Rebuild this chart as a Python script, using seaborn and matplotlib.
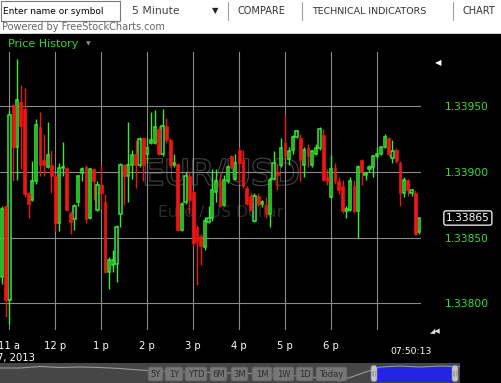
import numpy as np
import pandas as pd
import matplotlib
matplotlib.use("Agg")
import matplotlib.pyplot as plt
import matplotlib.patheffects as pe
from matplotlib.patches import Rectangle, FancyBboxPatch
from matplotlib.transforms import blended_transform_factory
import seaborn as sns

# EUR/USD 5 minute bars (10:50 onwards)
opens = [1.33820, 1.33874, 1.33803, 1.33951, 1.33919, 1.33953, 1.33948, 1.33884, 1.33879, 1.33893,
         1.33934, 1.33909, 1.33904, 1.33905, 1.33897, 1.33861, 1.33903, 1.33903, 1.33869, 1.33864,
         1.33877, 1.33899, 1.33904, 1.33865, 1.33902, 1.33871, 1.33890, 1.33877, 1.33824, 1.33829,
         1.33830, 1.33868, 1.33905, 1.33897, 1.33905, 1.33914, 1.33905, 1.33926, 1.33914, 1.33922,
         1.33922, 1.33933, 1.33914, 1.33935, 1.33924, 1.33905, 1.33906, 1.33856, 1.33877, 1.33897,
         1.33885, 1.33858, 1.33851, 1.33843, 1.33862, 1.33865, 1.33885, 1.33893, 1.33875, 1.33893,
         1.33912, 1.33895, 1.33917, 1.33909, 1.33888, 1.33882, 1.33863, 1.33882, 1.33876, 1.33875,
         1.33868, 1.33895, 1.33900, 1.33905, 1.33922, 1.33910, 1.33917, 1.33927, 1.33926, 1.33905,
         1.33918, 1.33905, 1.33914, 1.33918, 1.33928, 1.33896, 1.33881, 1.33903, 1.33893, 1.33889,
         1.33870, 1.33871, 1.33889, 1.33870, 1.33909, 1.33898, 1.33902, 1.33904, 1.33912, 1.33914,
         1.33919, 1.33926, 1.33911, 1.33917, 1.33907, 1.33884, 1.33894, 1.33884, 1.33884, 1.33854]
highs = [1.33874, 1.33875, 1.33947, 1.33952, 1.33986, 1.33966, 1.33964, 1.33885, 1.33908, 1.33940,
         1.33946, 1.33929, 1.33938, 1.33917, 1.33899, 1.33907, 1.33923, 1.33904, 1.33870, 1.33876,
         1.33898, 1.33904, 1.33905, 1.33903, 1.33903, 1.33893, 1.33905, 1.33883, 1.33835, 1.33841,
         1.33860, 1.33907, 1.33906, 1.33938, 1.33917, 1.33924, 1.33927, 1.33927, 1.33927, 1.33946,
         1.33947, 1.33935, 1.33948, 1.33941, 1.33926, 1.33914, 1.33907, 1.33877, 1.33900, 1.33901,
         1.33886, 1.33860, 1.33853, 1.33866, 1.33874, 1.33902, 1.33902, 1.33899, 1.33898, 1.33905,
         1.33913, 1.33914, 1.33919, 1.33917, 1.33889, 1.33884, 1.33884, 1.33884, 1.33879, 1.33881,
         1.33896, 1.33916, 1.33907, 1.33926, 1.33943, 1.33919, 1.33928, 1.33932, 1.33929, 1.33919,
         1.33921, 1.33917, 1.33921, 1.33934, 1.33933, 1.33902, 1.33913, 1.33907, 1.33896, 1.33894,
         1.33874, 1.33896, 1.33894, 1.33905, 1.33910, 1.33900, 1.33905, 1.33913, 1.33919, 1.33920,
         1.33929, 1.33927, 1.33924, 1.33918, 1.33908, 1.33896, 1.33895, 1.33887, 1.33886, 1.33865]
lows = [1.33815, 1.33790, 1.33784, 1.33893, 1.33894, 1.33902, 1.33881, 1.33865, 1.33878, 1.33891,
        1.33897, 1.33897, 1.33903, 1.33884, 1.33855, 1.33855, 1.33897, 1.33870, 1.33853, 1.33856,
        1.33874, 1.33893, 1.33861, 1.33864, 1.33879, 1.33870, 1.33872, 1.33823, 1.33811, 1.33824,
        1.33816, 1.33858, 1.33875, 1.33877, 1.33895, 1.33888, 1.33904, 1.33893, 1.33907, 1.33921,
        1.33921, 1.33913, 1.33912, 1.33922, 1.33904, 1.33904, 1.33855, 1.33855, 1.33876, 1.33868,
        1.33844, 1.33814, 1.33829, 1.33841, 1.33861, 1.33863, 1.33877, 1.33873, 1.33874, 1.33892,
        1.33902, 1.33894, 1.33891, 1.33888, 1.33875, 1.33870, 1.33862, 1.33874, 1.33873, 1.33865,
        1.33858, 1.33894, 1.33886, 1.33904, 1.33910, 1.33905, 1.33914, 1.33926, 1.33893, 1.33896,
        1.33904, 1.33904, 1.33913, 1.33917, 1.33893, 1.33890, 1.33880, 1.33891, 1.33883, 1.33869,
        1.33865, 1.33870, 1.33869, 1.33850, 1.33890, 1.33894, 1.33900, 1.33896, 1.33911, 1.33913,
        1.33918, 1.33912, 1.33907, 1.33907, 1.33874, 1.33881, 1.33882, 1.33882, 1.33852, 1.33853]
closes = [1.33872, 1.33803, 1.33943, 1.33919, 1.33955, 1.33935, 1.33883, 1.33876, 1.33893, 1.33936,
          1.33905, 1.33905, 1.33913, 1.33897, 1.33861, 1.33903, 1.33904, 1.33871, 1.33862, 1.33874,
          1.33897, 1.33902, 1.33864, 1.33902, 1.33893, 1.33890, 1.33884, 1.33824, 1.33833, 1.33833,
          1.33858, 1.33905, 1.33897, 1.33905, 1.33913, 1.33905, 1.33925, 1.33905, 1.33918, 1.33924,
          1.33934, 1.33914, 1.33935, 1.33924, 1.33905, 1.33907, 1.33856, 1.33876, 1.33897, 1.33879,
          1.33846, 1.33847, 1.33844, 1.33863, 1.33865, 1.33886, 1.33893, 1.33874, 1.33894, 1.33904,
          1.33904, 1.33907, 1.33907, 1.33889, 1.33876, 1.33871, 1.33882, 1.33876, 1.33877, 1.33868,
          1.33894, 1.33907, 1.33898, 1.33918, 1.33912, 1.33916, 1.33927, 1.33931, 1.33909, 1.33917,
          1.33912, 1.33916, 1.33918, 1.33933, 1.33894, 1.33893, 1.33902, 1.33893, 1.33886, 1.33870,
          1.33872, 1.33893, 1.33870, 1.33904, 1.33900, 1.33899, 1.33904, 1.33912, 1.33914, 1.33919,
          1.33927, 1.33914, 1.33916, 1.33908, 1.33884, 1.33894, 1.33886, 1.33886, 1.33853, 1.33865]

hour_labels = ["11 a", "12 p", "1 p", "2 p", "3 p", "4 p", "5 p", "6 p", ""]
price_ticks = [1.33800, 1.33850, 1.33900, 1.33950]
last_price = 1.33865
range_buttons = ["5Y", "1Y", "YTD", "6M", "3M", "1M", "1W", "1D", "Today"]
# navigator sparkline (longer history, relative level)
nav_levels = [15, 15, 16.5, 15.5, 16, 15.5, 14.5, 13, 12, 11, 11, 10,
              10, 9, 8, 7, 5, 2, 9, 16, 17, 16, 17, 16.5]

times = pd.date_range("2013-01-07 10:50", periods=len(opens), freq="5min")
df = pd.DataFrame({"time": times, "open": opens, "high": highs,
                   "low": lows, "close": closes})
df["pos"] = np.arange(len(df))
df["up"] = df["close"] >= df["open"]
df["top"] = df[["open", "close"]].max(axis=1)
df["bottom"] = df[["open", "close"]].min(axis=1)

GREEN = "#33ee33"
RED = "#ee1515"

sns.set_theme(style="dark", rc={"axes.facecolor": "black", "figure.facecolor": "black"})
plt.rcParams["font.family"] = ["DejaVu Sans"]

W, H = 501, 383
fig = plt.figure(figsize=(W / 100, H / 100), dpi=100)


def box(x0, y0, x1, y1):
    # pixel box (top-left origin) -> figure fraction rect
    return [x0 / W, 1 - y1 / H, (x1 - x0) / W, (y1 - y0) / H]


# background / chrome layer in pixel coordinates
bg = fig.add_axes([0, 0, 1, 1], zorder=0)
bg.set_xlim(0, W)
bg.set_ylim(H, 0)
bg.axis("off")
bg.add_patch(Rectangle((0, 0), W, 34, color="white"))
bg.add_patch(Rectangle((0, 34), W, H - 34, color="black"))
bg.add_patch(Rectangle((0.5, 0.5), 120, 20, fill=False, edgecolor="#7a7a7a", lw=0.8))
bg.text(3, 11, "Enter name or symbol", fontsize=6.5, color="black", va="center")
bg.text(132, 11, "5 Minute", fontsize=7.8, color="#444444", va="center")
bg.text(215, 11, "▼", fontsize=6, color="#222222", va="center", ha="center")
for sx in [228, 302, 453]:
    bg.plot([sx, sx], [2, 20], color="#a0a0a0", lw=0.8)
bg.text(238, 11, "COMPARE", fontsize=7, color="#333333", va="center")
bg.text(312, 11, "TECHNICAL INDICATORS", fontsize=6.8, color="#333333", va="center")
bg.text(463, 11, "CHART", fontsize=7, color="#333333", va="center")
bg.text(2, 27, "Powered by FreeStockCharts.com", fontsize=7, color="#666666", va="center")
bg.text(8, 44, "Price History", fontsize=8, color="#2fd82f", va="center")
bg.text(88, 44, "▼", fontsize=4.5, color="#888888", va="center", ha="center")
bg.text(438, 63, "◀", fontsize=6, color="white", va="center", ha="center")
bg.text(435, 331, "◢◀", fontsize=5, color="#dddddd", va="center", ha="center")
bg.text(-3, 358, "7, 2013", fontsize=7.2, color="white", va="center")
bg.text(411, 352, "07:50:13", fontsize=6.7, color="white", va="center", ha="center")

# navigator strip
nav = fig.add_axes(box(0, 363, 460, 383), zorder=1)
nav.set_facecolor("#464646")
nav.set_xlim(0, len(nav_levels) - 1)
nav.set_ylim(0, 20)
nav.axvspan(18.6, 22.8, ymin=0.05, ymax=0.9, color="#2424e4", lw=0)
nav.plot(np.arange(len(nav_levels)), nav_levels, color="#9a9a9a", lw=0.8)
nav.set_xticks([])
nav.set_yticks([])
for s in nav.spines.values():
    s.set_visible(False)

# main price chart
ax = fig.add_axes(box(0, 52, 421, 330), zorder=2)
ax.set_facecolor("none")
ax.set_xlim(-0.444, 109.48)
ax.set_ylim(1.337798, 1.339913)

ax.text(0.525, 0.559, "EUR/USD", transform=ax.transAxes, fontsize=25,
        color="black", ha="center", va="center", zorder=0.5,
        path_effects=[pe.Stroke(linewidth=1.6, foreground="#454545"), pe.Normal()])
ax.text(0.525, 0.421, "Euro / US Dollar", transform=ax.transAxes, fontsize=11.4,
        color="#2c2c2c", ha="center", va="center", zorder=0.5)

colors = np.where(df["up"], GREEN, RED)
ax.vlines(df["pos"], df["top"], df["high"], colors=colors, lw=1.0, zorder=3)
ax.vlines(df["pos"], df["low"], df["bottom"], colors=colors, lw=1.0, zorder=3)
up = df[df["up"]]
dn = df[~df["up"]]
ax.bar(up["pos"], up["top"] - up["bottom"], bottom=up["bottom"], width=0.6,
       facecolor="black", edgecolor=GREEN, linewidth=1.1, zorder=4)
ax.bar(dn["pos"], dn["top"] - dn["bottom"], bottom=dn["bottom"], width=0.72,
       color=RED, edgecolor=RED, linewidth=0.5, zorder=4)

hour_pos = df.loc[df["time"].dt.minute == 0, "pos"].to_numpy()
ax.set_xticks(hour_pos)
ax.set_xticklabels(hour_labels)
ax.yaxis.tick_right()
ax.set_yticks(price_ticks)
ax.set_yticklabels([f"{p:.5f}" for p in price_ticks])
ax.tick_params(axis="x", length=0, pad=8, labelcolor="white", labelsize=7.2)
ax.tick_params(axis="y", length=0, pad=17, labelcolor="#33e033", labelsize=7.7)
ax.grid(True, color="#8a8a8a", linewidth=0.8)
ax.set_axisbelow(True)
for s in ax.spines.values():
    s.set_visible(False)

tr = blended_transform_factory(ax.transAxes, ax.transData)
ax.text(1 + 25 / 421, last_price, f"{last_price:.5f}", transform=tr, fontsize=7.7,
        color="white", va="center", ha="left",
        bbox=dict(boxstyle="round,pad=0.2", facecolor="black", edgecolor="white", lw=0.9))

# overlay: range buttons and navigator handles
ui = fig.add_axes([0, 0, 1, 1], zorder=5)
ui.set_xlim(0, W)
ui.set_ylim(H, 0)
ui.axis("off")
button_spans = [(148, 163), (165, 183), (185, 207), (210, 227), (231, 248),
                (252, 272), (273, 294), (296, 313), (316, 347)]
for label, (x0, x1) in zip(range_buttons, button_spans):
    ui.add_patch(FancyBboxPatch((x0, 367), x1 - x0, 14, boxstyle="round,pad=0,rounding_size=2",
                                facecolor="#767676", edgecolor="#5a5a5a", lw=0.5))
    ui.text((x0 + x1) / 2, 374.5, label, fontsize=6, color="#2e2e2e", ha="center", va="center")
for hx in [371, 452]:
    ui.add_patch(FancyBboxPatch((hx, 365.5), 6, 16, boxstyle="round,pad=0,rounding_size=2.5",
                                facecolor="#c4c4c4", edgecolor="#8a8a8a", lw=0.5))
    ui.text(hx + 3, 373.5, "|||", fontsize=3.5, color="#777777", ha="center", va="center")

fig.savefig("out.png", dpi=100, facecolor="black")
